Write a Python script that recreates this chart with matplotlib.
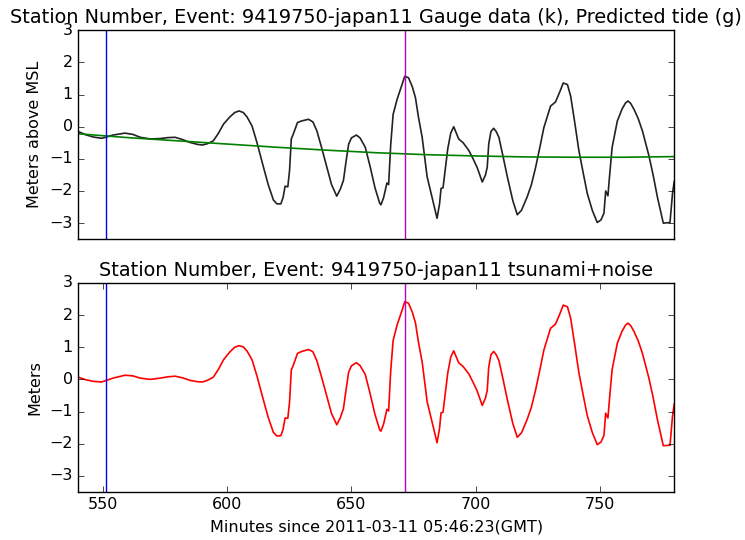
import numpy as np
import matplotlib
matplotlib.use('Agg')
import matplotlib.pyplot as plt

plt.style.use('classic')
plt.rcParams['font.family'] = ['DejaVu Sans']
plt.rcParams['font.size'] = 11.5
plt.rcParams['axes.titlesize'] = 13.9

# gauge record, minutes since 2011-03-11 05:46:23 GMT
minutes = [540, 543, 546, 549.4, 551, 554, 558.8, 562, 565, 569, 573, 576, 579, 582, 585, 588, 590, 592,
           594.4, 596.5, 598.5, 601, 603, 604.8, 606.5, 608, 610, 612, 614.6, 616.5, 618.6, 620, 621.6,
           622.5, 623.3, 624.4, 625.1, 625.8, 626.5, 628.3, 630, 632.7, 634.5, 636.1, 638, 640.1, 642,
           644.1, 645.5, 646.8, 648, 648.9, 650, 652, 653.5, 655.6, 657.6, 659.5, 661.4, 661.9, 663,
           664.3, 665, 665.8, 666.8, 668.4, 670.4, 671.5, 673, 674.5, 675.8, 677, 678.5, 680.5, 682.5,
           684.5, 685.5, 686.1, 686.9, 688, 688.8, 690, 691.2, 692, 693.2, 695, 697.3, 699, 700.6, 702.7,
           704, 704.7, 705.3, 706.2, 707.3, 708.3, 709.4, 711, 712.8, 715, 716.8, 718.5, 720.8, 722.5,
           724.2, 726, 727.5, 730.2, 732.2, 734, 735.3, 737, 738.3, 740, 741.6, 743.5, 745, 747, 749,
           750.5, 751.7, 752.4, 753.3, 754, 755, 757.1, 759, 760.4, 761.4, 762.5, 763.8, 765.5, 767.2,
           769.8, 771.5, 773.2, 775.6, 778.3, 779.3, 780]

gauge = [-0.15, -0.25, -0.32, -0.36, -0.33, -0.26, -0.2, -0.24, -0.33, -0.38, -0.37, -0.34, -0.33, -0.4,
         -0.49, -0.55, -0.57, -0.53, -0.44, -0.2, 0.08, 0.3, 0.44, 0.49, 0.44, 0.3, 0.02, -0.5, -1.26, -1.8,
         -2.28, -2.4, -2.4, -2.2, -1.85, -1.87, -1.36, -0.38, -0.25, 0.13, 0.18, 0.23, 0.15, -0.13, -0.65,
         -1.26, -1.8, -2.16, -1.95, -1.67, -1.0, -0.54, -0.35, -0.26, -0.35, -0.64, -1.26, -1.9, -2.38,
         -2.43, -2.2, -1.75, -1.8, -0.6, 0.38, 0.85, 1.31, 1.57, 1.52, 1.25, 0.9, 0.3, -0.33, -1.56, -2.2,
         -2.85, -2.4, -1.92, -1.9, -1.2, -0.69, -0.2, 0.0, -0.15, -0.38, -0.5, -0.74, -1.0, -1.26, -1.72,
         -1.5, -1.26, -0.54, -0.15, -0.05, -0.15, -0.33, -0.9, -1.56, -2.3, -2.74, -2.6, -2.18, -1.8,
         -1.26, -0.6, -0.03, 0.64, 0.77, 1.1, 1.36, 1.31, 0.95, 0.1, -0.74, -1.5, -2.08, -2.6, -2.98,
         -2.9, -2.69, -2.0, -2.15, -1.5, -0.64, 0.18, 0.55, 0.74, 0.8, 0.72, 0.54, 0.25, -0.13, -0.9,
         -1.5, -2.18, -3.0, -2.98, -2.08, -1.7]

tsunami = [0.07, -0.01, -0.06, -0.08, -0.04, 0.04, 0.13, 0.11, 0.04, 0.0, 0.04, 0.08, 0.1, 0.05, -0.03,
           -0.07, -0.08, -0.03, 0.07, 0.32, 0.61, 0.85, 1.0, 1.05, 1.01, 0.88, 0.61, 0.1, -0.65, -1.18,
           -1.65, -1.76, -1.75, -1.55, -1.2, -1.21, -0.7, 0.29, 0.42, 0.81, 0.87, 0.93, 0.86, 0.58, 0.07,
           -0.53, -1.06, -1.41, -1.2, -0.91, -0.24, 0.23, 0.42, 0.52, 0.43, 0.15, -0.46, -1.09, -1.57,
           -1.61, -1.38, -0.93, -0.98, 0.23, 1.21, 1.69, 2.15, 2.42, 2.37, 2.1, 1.76, 1.16, 0.54, -0.69,
           -1.33, -1.97, -1.52, -1.04, -1.02, -0.31, 0.2, 0.69, 0.89, 0.74, 0.52, 0.4, 0.17, -0.09, -0.35,
           -0.81, -0.58, -0.34, 0.38, 0.77, 0.87, 0.77, 0.59, 0.03, -0.63, -1.37, -1.8, -1.66, -1.24,
           -0.86, -0.32, 0.34, 0.91, 1.59, 1.72, 2.05, 2.31, 2.26, 1.9, 1.05, 0.21, -0.55, -1.13, -1.65,
           -2.03, -1.95, -1.74, -1.05, -1.2, -0.55, 0.31, 1.13, 1.5, 1.69, 1.75, 1.67, 1.49, 1.2, 0.81,
           0.04, -0.56, -1.24, -2.06, -2.05, -1.15, -0.77]

# predicted tide
tide_minutes = [540, 560, 580, 600, 620, 640, 660, 680, 700, 720, 740, 760, 780]
tide = [-0.22, -0.34, -0.44, -0.54, -0.64, -0.73, -0.81, -0.87, -0.91, -0.94, -0.95, -0.95, -0.93]

t_start = 551   # blue marker
t_peak = 671.4  # magenta marker

fig = plt.figure(figsize=(7.45, 5.4), dpi=100, facecolor='white')
ax1 = fig.add_axes([0.105, 0.557, 0.800, 0.387])
ax2 = fig.add_axes([0.105, 0.089, 0.800, 0.387])

ax1.plot(minutes, gauge, color='#222222', lw=1.2)
ax1.plot(tide_minutes, tide, color='g', lw=1.2)
ax1.axvline(t_start, color='b', lw=1.0)
ax1.axvline(t_peak, color=(0.75, 0, 0.75), lw=1.0)
ax1.set_xlim(540, 780)
ax1.set_ylim(-3.5, 3)
ax1.set_yticks(np.arange(-3, 4, 1))
ax1.set_xticks([])
ax1.set_ylabel('Meters above MSL')
ax1.set_title('Station Number, Event: 9419750-japan11 Gauge data (k), Predicted tide (g)')

ax2.plot(minutes, tsunami, color='r', lw=1.2)
ax2.axvline(t_start, color='b', lw=1.0)
ax2.axvline(t_peak, color=(0.75, 0, 0.75), lw=1.0)
ax2.set_xlim(540, 780)
ax2.set_ylim(-3.5, 3)
ax2.set_yticks(np.arange(-3, 4, 1))
ax2.set_xticks(np.arange(550, 800, 50))
ax2.set_ylabel('Meters')
ax2.set_xlabel('Minutes since 2011-03-11 05:46:23(GMT)')
ax2.set_title('Station Number, Event: 9419750-japan11 tsunami+noise')

fig.savefig('out.png', dpi=100, facecolor='white')
